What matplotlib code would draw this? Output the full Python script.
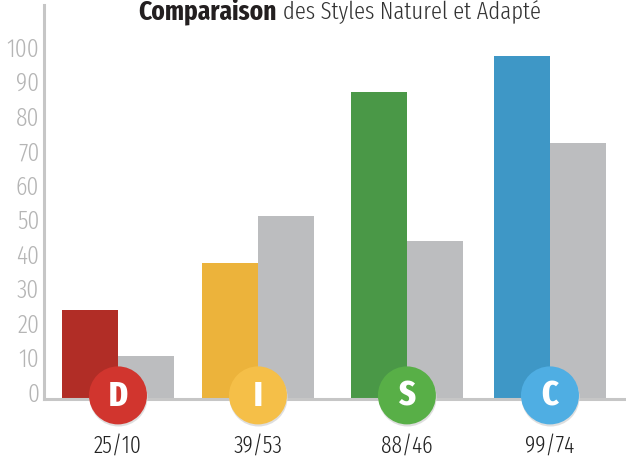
# file: plot.py
# description: DISC bar chart, natural vs adapted styles.

from matplotlib import pyplot
from matplotlib.transforms import ScaledTranslation

NARROW = ['Fira Sans Extra Condensed', 'Liberation Sans']

letters = ['D', 'I', 'S', 'C']
labels = ['25/10', '39/53', '88/46', '99/74']
natural = [25.5, 39.3, 88.7, 99.2]
adapted = [12.3, 53, 45.5, 74]
group_pos = [0, 1, 2.064, 3.086]
y_ticks = [0, 10, 20, 30, 40, 50, 60, 70, 80, 90, 100]

bar_colors = ['#B12D26', '#ECB33B', '#4A9847', '#3E97C6']
badge_colors = ['#D1352E', '#F5BF48', '#58AF47', '#4FAEE3']
gray = '#BCBDBF'
bar_width = 0.4

fig = pyplot.figure(figsize=(6.26, 4.59), dpi=100)
ax = fig.add_axes([43.5/626, 60.5/459, 582.5/626, 393.5/459])
ax.set_xlim(-0.532, 3.629)
ax.set_ylim(0, 114)

for spine in ('top', 'right'):
  ax.spines[spine].set_visible(False)
for spine in ('left', 'bottom'):
  ax.spines[spine].set_color('#C6C6C6')
  ax.spines[spine].set_linewidth(2.2)

ax.bar([p - bar_width/2 for p in group_pos], natural, bar_width,
       color=bar_colors, zorder=2)
ax.bar([p + bar_width/2 for p in group_pos], adapted, bar_width,
       color=gray, zorder=2)

# badges sit on the baseline, with a soft shadow below
ax.scatter(group_pos, [0.3]*4, s=1744, color='#DEDEDE', linewidths=0,
           clip_on=False, zorder=3)
ax.scatter(group_pos, [0.9]*4, s=1744, color=badge_colors, linewidths=0,
           clip_on=False, zorder=4)
for p, letter in zip(group_pos, letters):
  ax.text(p, 0.6, letter, color='white', fontsize=25, fontweight=800,
          family=NARROW, ha='center', va='center', zorder=5)

ax.set_xticks(group_pos)
ax.set_xticklabels(labels, family=NARROW, fontsize=17, fontweight=300, color='#222222')
ax.tick_params(axis='x', length=0, pad=26)
ax.set_yticks(y_ticks)
ax.set_yticklabels(y_ticks, family=NARROW, fontsize=18.5, fontweight=300, color='#B5B5B5')
ax.tick_params(axis='y', length=0, pad=3)
shift = ScaledTranslation(0, 6.5/100, fig.dpi_scale_trans)
for tick in ax.get_yticklabels():
  tick.set_transform(tick.get_transform() + shift)

# title in two weights, placed side by side
renderer = fig.canvas.get_renderer()
bold = fig.text(138.5/626, 1 - 19/459, 'Comparaison', family=NARROW, fontweight='bold',
                fontsize=19.7, color='#231F20')
end = bold.get_window_extent(renderer).x1
fig.text((end + 6)/626, 1 - 19/459, 'des Styles Naturel et Adapté', family=NARROW,
         fontweight=300, fontsize=17.7, color='#333333')

fig.savefig('out.png', dpi=100)
